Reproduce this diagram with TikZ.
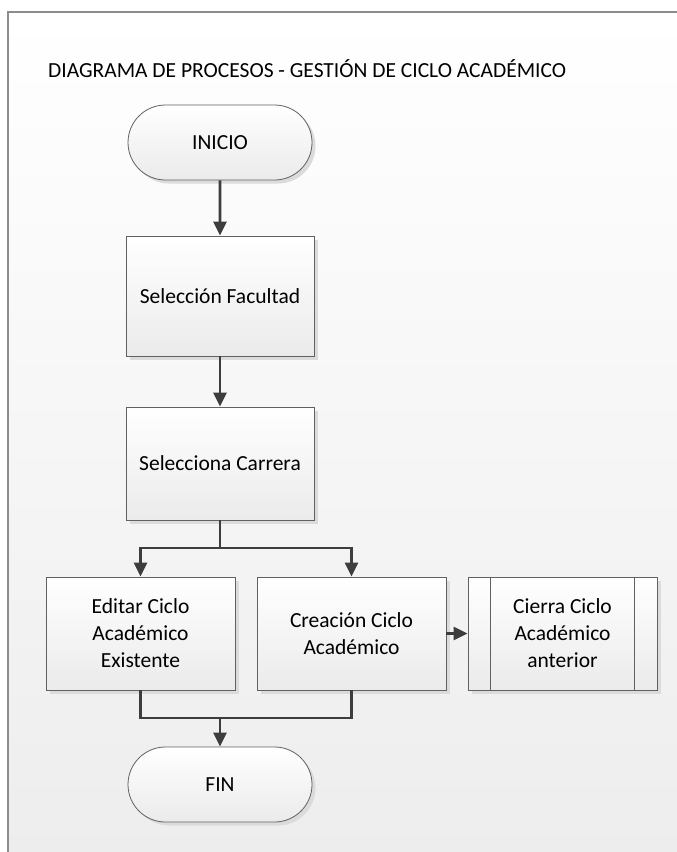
\documentclass[tikz,border=0pt]{standalone}
\usepackage{fontspec}
\setmainfont{Carlito}
\usetikzlibrary{arrows.meta,shadows,shapes.misc}

\tikzset{
  shapebase/.style={draw=black!62, line width=0.8pt, top color=white, bottom color=black!8,
    align=center, font=\fontsize{21.5}{27}\selectfont, inner sep=2pt,
    drop shadow={shadow xshift=3.5pt, shadow yshift=-3.5pt, fill=black!14, opacity=1}},
  procbox/.style={shapebase, rectangle, minimum width=188pt, minimum height=113pt},
  termbox/.style={shapebase, rounded rectangle, minimum width=188pt, minimum height=75pt},
  flow/.style={draw=black!76, line width=2.6pt},
  arr/.style={flow, -{Triangle[length=14pt, width=13pt]}}
}

\begin{document}
\begin{tikzpicture}[x=1pt, y=1pt]
  \useasboundingbox (0,0) rectangle (677,-852);
  % page background with soft vertical gradient
  \fill[white] (0,0) rectangle (677,-852);
  \shade[top color=white, bottom color=black!7] (8,-12) rectangle (677,-852);
  \draw[black!45, line width=1.2pt] (8,-852) -- (8,-12) -- (677,-12);

  % title
  \node[anchor=base west, inner sep=0pt, font=\fontsize{21.5}{26}\selectfont] (title) at (48,-77)
    {DIAGRAMA DE PROCESOS - GESTIÓN DE CICLO ACADÉMICO};

  % flow elements
  \node[termbox] (inicio) at (220,-142.5) {INICIO};
  \node[procbox, minimum height=120pt] (facultad) at (220,-296) {Selección Facultad};
  \node[procbox] (carrera) at (220,-463.5) {Selecciona Carrera};
  \node[procbox, minimum width=189pt] (editar) at (140.5,-633.5) {Editar Ciclo\\Académico\\Existente};
  \node[procbox, minimum width=189pt] (crear) at (351.5,-633.5) {Creación Ciclo\\Académico};
  \node[procbox, minimum width=189pt] (cierra) at (562.5,-633.5) {Cierra Ciclo\\Académico\\anterior};
  \draw[black!62, line width=0.8pt] ([xshift=23pt]cierra.north west) -- ([xshift=23pt]cierra.south west);
  \draw[black!62, line width=0.8pt] ([xshift=-23pt]cierra.north east) -- ([xshift=-23pt]cierra.south east);
  \node[termbox] (fin) at (220,-784.5) {FIN};

  % connectors
  \coordinate (split) at (220,-548);
  \coordinate (join) at (220,-718);
  \draw[arr] (inicio) -- (facultad);
  \draw[arr] (facultad) -- (carrera);
  \draw[flow] (carrera.south) -- (split);
  \draw[arr] (split) -| (editar.north);
  \draw[arr] (split) -| (crear.north);
  \draw[arr] (crear.east) -- (cierra.west);
  \draw[flow] (editar.south) |- (join);
  \draw[flow] (crear.south) |- (join);
  \draw[arr] (join) -- (fin.north);
\end{tikzpicture}
\end{document}
